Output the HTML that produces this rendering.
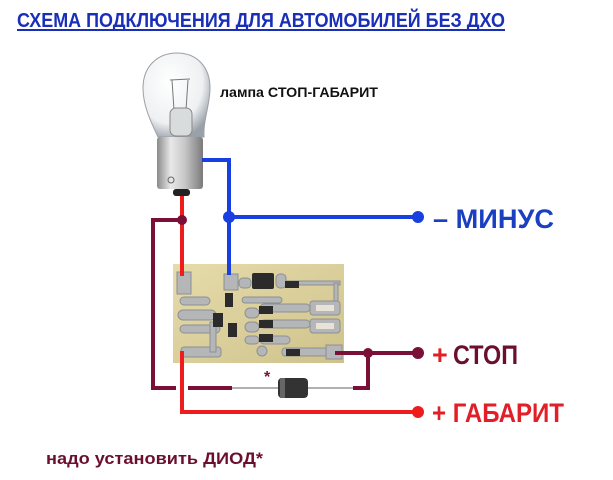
<!DOCTYPE html>
<html><head><meta charset="utf-8"><style>
html,body{margin:0;padding:0;background:#fff;}
svg{display:block}
text{font-family:"Liberation Sans","DejaVu Sans",sans-serif;font-weight:bold}
</style></head><body>
<svg width="613" height="480" viewBox="0 0 613 480" xmlns="http://www.w3.org/2000/svg">
<defs>
<radialGradient id="gl" cx="0.4" cy="0.35" r="0.7">
<stop offset="0" stop-color="#ffffff"/><stop offset="0.7" stop-color="#eef0f2"/><stop offset="1" stop-color="#9aa0a8"/>
</radialGradient>
<linearGradient id="bs" x1="0" x2="1">
<stop offset="0" stop-color="#8a8a8a"/><stop offset="0.3" stop-color="#e8e8e8"/><stop offset="0.6" stop-color="#c8c8c8"/><stop offset="1" stop-color="#7a7a7a"/>
</linearGradient>
<linearGradient id="pcb" x1="0" y1="0" x2="1" y2="1">
<stop offset="0" stop-color="#e6dcaa"/><stop offset="1" stop-color="#cfc28c"/>
</linearGradient>
</defs>

<text x="17" y="27" font-size="20" fill="#1a2fb8" textLength="488" lengthAdjust="spacingAndGlyphs">СХЕМА ПОДКЛЮЧЕНИЯ ДЛЯ АВТОМОБИЛЕЙ БЕЗ ДХО</text>
<rect x="17" y="29" width="488" height="2" fill="#1a2fb8"/>

<!-- bulb -->
<path d="M158,137 C150,120 143,105 143,88 C143,66 158,53 177,53 C196,53 210,66 210,88 C210,105 203,120 204,137 Z" fill="url(#gl)" stroke="#9aa0a6" stroke-width="1"/>
<path d="M170,80 L190,79 M172,80 L174,110 M188,80 L186,110" stroke="#777" stroke-width="1" fill="none"/>
<rect x="170" y="108" width="22" height="28" rx="6" fill="#d8dcdc" stroke="#888"/>
<rect x="157" y="137" width="46" height="52" rx="3" fill="url(#bs)"/>
<circle cx="171" cy="180" r="3" fill="none" stroke="#666"/>
<rect x="173" y="189" width="17" height="7" rx="3" fill="#222"/>

<text x="220" y="97" font-size="14" fill="#111" textLength="158" lengthAdjust="spacingAndGlyphs">лампа СТОП-ГАБАРИТ</text>

<!-- board -->
<rect x="173" y="264" width="171" height="99" fill="url(#pcb)"/>
<g fill="#b4b6b8" stroke="#8d9092" stroke-width="1">
<rect x="177" y="272" width="14" height="22"/>
<rect x="224" y="274" width="14" height="16"/>
<rect x="180" y="297" width="30" height="8" rx="4"/>
<rect x="178" y="310" width="38" height="10" rx="5"/>
<rect x="180" y="325" width="40" height="8" rx="4"/>
<rect x="181" y="347" width="40" height="10" rx="3"/>
<rect x="239" y="278" width="12" height="10" rx="4"/>
<rect x="276" y="274" width="10" height="14" rx="4"/>
<rect x="286" y="281" width="54" height="4"/>
<rect x="334" y="283" width="4" height="20"/>
<rect x="242" y="297" width="40" height="6" rx="3"/>
<rect x="245" y="308" width="14" height="10" rx="5"/>
<rect x="245" y="322" width="14" height="10" rx="5"/>
<rect x="245" y="336" width="14" height="8" rx="4"/>
<rect x="260" y="304" width="50" height="8" rx="4"/>
<rect x="260" y="320" width="50" height="8" rx="4"/>
<rect x="260" y="336" width="30" height="8" rx="4"/>
<rect x="310" y="301" width="30" height="14" rx="3"/>
<rect x="310" y="319" width="30" height="14" rx="3"/>
<rect x="282" y="348" width="46" height="8" rx="3"/>
<rect x="326" y="345" width="16" height="14"/>
<rect x="210" y="322" width="6" height="30"/>
<circle cx="262" cy="351" r="5"/>
</g>
<g fill="#2b2b2b">
<rect x="252" y="273" width="22" height="16" rx="2"/>
<rect x="225" y="293" width="8" height="14"/>
<rect x="213" y="313" width="10" height="14"/>
<rect x="228" y="323" width="9" height="14"/>
<rect x="259" y="306" width="14" height="8"/>
<rect x="259" y="320" width="14" height="8"/>
<rect x="259" y="334" width="14" height="8"/>
<rect x="285" y="281" width="14" height="7"/>
<rect x="286" y="349" width="14" height="7"/>
</g>
<g fill="#e8e2d8"><rect x="316" y="305" width="18" height="6"/><rect x="316" y="323" width="18" height="6"/></g>

<!-- wires -->
<g fill="none" stroke-width="4">
<polyline points="202,160 229,160 229,275" stroke="#1840e0"/>
<line x1="229" y1="217" x2="418" y2="217" stroke="#1840e0"/>
<line x1="182" y1="196" x2="182" y2="276" stroke="#ee1c1c"/>
<polyline points="182,351 182,412 418,412" stroke="#ee1c1c"/>
<polyline points="182,220 153,220 153,388 176,388" stroke="#7a1038"/>
<line x1="188" y1="388" x2="232" y2="388" stroke="#7a1038"/>
<polyline points="353,388 368,388 368,353" stroke="#7a1038"/>
<line x1="335" y1="353" x2="418" y2="353" stroke="#7a1038"/>
</g>
<line x1="232" y1="388" x2="353" y2="388" stroke="#b0b0b0" stroke-width="2"/>
<rect x="278" y="378" width="30" height="20" rx="4" fill="#333"/>
<rect x="280" y="378" width="5" height="20" fill="#666"/>
<text x="264" y="382" font-size="16" fill="#7a1038">*</text>

<g>
<circle cx="229" cy="217" r="6" fill="#1840e0"/>
<circle cx="418" cy="217" r="6" fill="#1840e0"/>
<circle cx="182" cy="220" r="5" fill="#7a1038"/>
<circle cx="368" cy="353" r="5" fill="#7a1038"/>
<circle cx="418" cy="353" r="6" fill="#7a1038"/>
<circle cx="418" cy="412" r="6" fill="#ee1c1c"/>
</g>

<text x="433" y="228" font-size="27" fill="#1a3fc0" textLength="121" lengthAdjust="spacingAndGlyphs">– МИНУС</text>
<text x="432" y="364" font-size="27" fill="#e21f26">+</text>
<text x="453" y="364" font-size="27" fill="#6b0f2f" textLength="65" lengthAdjust="spacingAndGlyphs">СТОП</text>
<text x="432" y="422" font-size="27" fill="#e21f26" textLength="132" lengthAdjust="spacingAndGlyphs">+ ГАБАРИТ</text>

<text x="46" y="464" font-size="17" fill="#6b0f2f" textLength="217" lengthAdjust="spacingAndGlyphs">надо установить ДИОД*</text>
</svg>
</body></html>
